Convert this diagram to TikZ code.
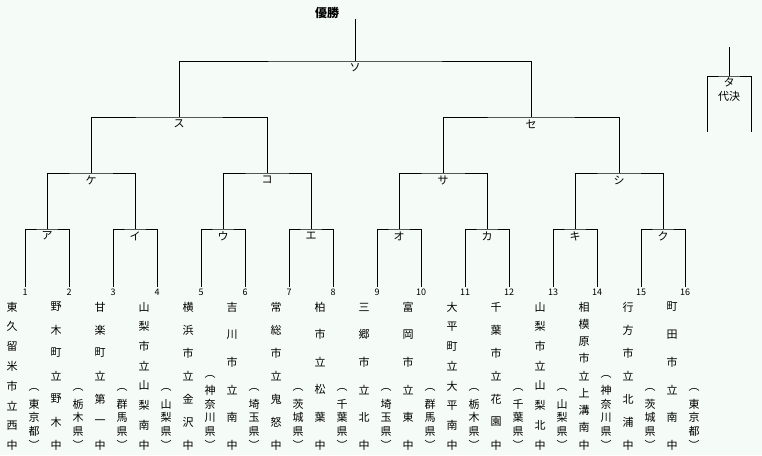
\documentclass[tikz,border=0pt]{standalone}
\usepackage{fontspec}
\newfontfamily\jp{Noto Sans CJK JP}
\definecolor{bg}{RGB}{245,251,247}
\begin{document}
\begin{tikzpicture}[x=1pt,y=-1pt,
  link/.style={line width=1pt,black},
  jpc/.style={font=\jp\fontsize{11}{11}\selectfont,inner sep=0pt},
  lab/.style={font=\jp\fontsize{11}{11}\selectfont,inner sep=0pt},
  num/.style={font=\jp\fontsize{9}{9}\selectfont,inner sep=0pt},
  win/.style={font=\jp\bfseries\fontsize{12}{12}\selectfont,inner sep=0pt}]
\useasboundingbox[fill=bg] (0,0) rectangle (762,455);
% leaves
\foreach \i in {1,...,16}{\coordinate (l\i) at ({25+44*(\i-1)},287);}
% round 1
\foreach \m in {1,...,8}{\coordinate (m\m) at ({47+88*(\m-1)},229);}
% round 2
\foreach \m in {1,...,4}{\coordinate (q\m) at ({91+176*(\m-1)},173);}
% semis
\coordinate (s1) at (179,117);
\coordinate (s2) at (531,117);
\coordinate (f) at (355,61);
\coordinate (top) at (355,19);
% links
\foreach \m in {1,...,8}{
  \pgfmathtruncatemacro\a{2*\m-1}\pgfmathtruncatemacro\b{2*\m}
  \draw[link] (l\a) |- (m\m) -| (l\b);}
\foreach \m in {1,...,4}{
  \pgfmathtruncatemacro\a{2*\m-1}\pgfmathtruncatemacro\b{2*\m}
  \draw[link] (m\a) |- (q\m) -| (m\b);}
\draw[link] (q1) |- (s1) -| (q2);
\draw[link] (q3) |- (s2) -| (q4);
\draw[link] (s1) |- (f) -| (s2);
\draw[link] (f) -- (top);
% match labels
\foreach \m/\t in {1/ア,2/イ,3/ウ,4/エ,5/オ,6/カ,7/キ,8/ク}{
  \node[lab] (lm\m) at ({47+88*(\m-1)},236) {\t};}
\foreach \m/\t in {1/ケ,2/コ,3/サ,4/シ}{
  \node[lab] (lq\m) at ({91+176*(\m-1)},180) {\t};}
\node[lab] (ls1) at (179,124) {ス};
\node[lab] (ls2) at (531,124) {セ};
\node[lab] (lf) at (355,68) {ソ};
\node[win] (champ) at (327,13) {優勝};
% third place box
\coordinate (tt) at (729,47);
\coordinate (tc) at (729,76);
\coordinate (tl) at (707,132);
\coordinate (tr) at (751,132);
\draw[link] (tt) -- (tc);
\draw[link] (tl) |- (tc) -| (tr);
\node[lab] (lt) at (729,82) {タ};
\node[lab] (lt2) at (729,96) {代決};
% numbers and names
\foreach \i/\n/\s/\q/\p in {
 1/8/{東,久,留,米,市,立,西,中}/5/{︵,東,京,都,︶},
 2/7/{野,木,町,立,野,木,中}/5/{︵,栃,木,県,︶},
 3/7/{甘,楽,町,立,第,一,中}/5/{︵,群,馬,県,︶},
 4/8/{山,梨,市,立,山,梨,南,中}/5/{︵,山,梨,県,︶},
 5/7/{横,浜,市,立,金,沢,中}/6/{︵,神,奈,川,県,︶},
 6/6/{吉,川,市,立,南,中}/5/{︵,埼,玉,県,︶},
 7/7/{常,総,市,立,鬼,怒,中}/5/{︵,茨,城,県,︶},
 8/6/{柏,市,立,松,葉,中}/5/{︵,千,葉,県,︶},
 9/6/{三,郷,市,立,北,中}/5/{︵,埼,玉,県,︶},
 10/6/{富,岡,市,立,東,中}/5/{︵,群,馬,県,︶},
 11/8/{大,平,町,立,大,平,南,中}/5/{︵,栃,木,県,︶},
 12/7/{千,葉,市,立,花,園,中}/5/{︵,千,葉,県,︶},
 13/8/{山,梨,市,立,山,梨,北,中}/5/{︵,山,梨,県,︶},
 14/9/{相,模,原,市,立,上,溝,南,中}/6/{︵,神,奈,川,県,︶},
 15/7/{行,方,市,立,北,浦,中}/5/{︵,茨,城,県,︶},
 16/6/{町,田,市,立,南,中}/5/{︵,東,京,都,︶}}{
  \pgfmathsetmacro\xx{25+44*(\i-1)}
  \node[num] (n\i) at (\xx,292) {\i};
  \foreach \c [count=\k from 0] in \s {
    \node[jpc] (s\i-\k) at ({\xx-13},{307+\k*138/(\n-1)}) {\c};}
  \foreach \c [count=\k from 0] in \p {
    \node[jpc] (p\i-\k) at ({\xx+9},{445-(\q-1-\k)*13.7}) {\c};}
}
\end{tikzpicture}
\end{document}
